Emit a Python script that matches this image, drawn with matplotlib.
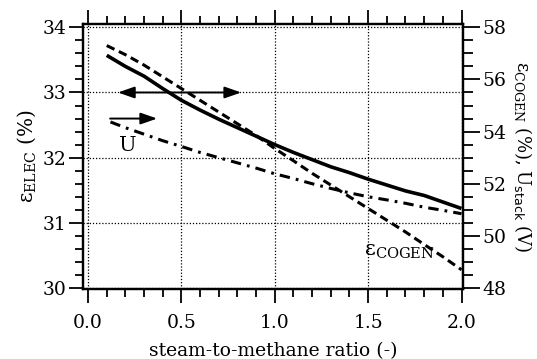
import matplotlib
matplotlib.use("Agg")
import matplotlib.pyplot as plt
from matplotlib.ticker import MultipleLocator

plt.rcParams['font.family'] = ['DejaVu Serif']
plt.rcParams['mathtext.fontset'] = 'custom'
plt.rcParams['mathtext.rm'] = 'DejaVu Serif'
plt.rcParams['mathtext.it'] = 'DejaVu Serif:italic'
plt.rcParams['mathtext.sf'] = 'DejaVu Sans'

# data
sm_ratio = [0.1, 0.2, 0.3, 0.4, 0.5, 0.6, 0.7, 0.8, 0.9, 1.0,
            1.1, 1.2, 1.3, 1.4, 1.5, 1.6, 1.7, 1.8, 1.9, 2.0]
eps_elec = [33.57, 33.40, 33.25, 33.06, 32.88, 32.73, 32.59, 32.46, 32.33, 32.20,
            32.08, 31.97, 31.86, 31.77, 31.67, 31.58, 31.49, 31.42, 31.32, 31.22]
eps_cogen = [57.30, 56.95, 56.55, 56.10, 55.65, 55.20, 54.75, 54.30, 53.85, 53.35,
             52.88, 52.40, 51.95, 51.50, 51.05, 50.60, 50.15, 49.67, 49.20, 48.70]
u_ratio = [0.12, 0.2, 0.3, 0.4, 0.5, 0.6, 0.7, 0.8, 0.9, 1.0,
           1.1, 1.2, 1.3, 1.4, 1.5, 1.6, 1.7, 1.8, 1.9, 2.0]
u_stack = [54.37, 54.15, 53.90, 53.65, 53.43, 53.20, 53.00, 52.80, 52.60, 52.38,
           52.20, 52.00, 51.82, 51.65, 51.50, 51.38, 51.25, 51.10, 50.98, 50.85]

x_ticks = [0.0, 0.5, 1.0, 1.5, 2.0]
left_ticks = [30, 31, 32, 33, 34]
right_ticks = [48, 50, 52, 54, 56, 58]

fig = plt.figure(figsize=(5.37, 3.59), dpi=100)
ax = fig.add_axes([0.1546, 0.195, 0.7076, 0.738])
ax2 = ax.twinx()

ax.set_xlim(-0.027, 2.008)
ax.set_ylim(29.985, 34.05)
ax2.set_ylim(48 + (29.985 - 30) * 2.5, 48 + (34.05 - 30) * 2.5)

ax.plot(sm_ratio, eps_elec, color='black', lw=2.6, solid_capstyle='butt', zorder=5)
ax2.plot(sm_ratio, eps_cogen, color='black', lw=2.2, dashes=(2.8, 1.6), zorder=5)
ax2.plot(u_ratio, u_stack, color='black', lw=2.2, dashes=(3.4, 2.0, 0.9, 2.0), zorder=5)

ax.set_xticks(x_ticks)
ax.set_xticklabels([f"{v:.1f}" for v in x_ticks])
ax.xaxis.set_minor_locator(MultipleLocator(0.1))
ax.set_yticks(left_ticks)
ax.yaxis.set_minor_locator(MultipleLocator(0.2))
ax2.set_yticks(right_ticks)
ax2.yaxis.set_minor_locator(MultipleLocator(0.5))

fs = 13.5
ax.tick_params(axis='x', which='both', direction='out', top=True, bottom=True,
               labelsize=fs, width=1.3, pad=8)
ax.tick_params(axis='x', which='major', length=10)
ax.tick_params(axis='x', which='minor', length=6)
ax.tick_params(axis='y', which='both', direction='out', left=True, right=False,
               labelsize=fs, width=1.3, pad=2)
ax.tick_params(axis='y', which='major', length=10)
ax.tick_params(axis='y', which='minor', length=6)
ax2.tick_params(axis='y', which='both', direction='out', labelsize=fs, width=1.3, pad=2)
ax2.tick_params(axis='y', which='major', length=12)
ax2.tick_params(axis='y', which='minor', length=7)

for a in (ax, ax2):
    for s in a.spines.values():
        s.set_linewidth(1.6)

ax.grid(True, which='major', linestyle=(0, (1, 1.5)), color='black', lw=0.9)

ax.set_xlabel('steam-to-methane ratio (-)', fontsize=fs, labelpad=7)
ax.set_ylabel('ε$_{\\mathrm{ELEC}}$ (%)', fontsize=14.5, labelpad=3)
ax2.set_ylabel('ε$_{\\mathrm{COGEN}}$ (%), U$_{\\mathsf{stack}}$ (V)',
               fontsize=13, rotation=270, labelpad=20)

# annotations
arrow = dict(arrowstyle='-|>,head_length=1.0,head_width=0.35',
             color='black', lw=1.4, shrinkA=0, shrinkB=0)
ax.annotate('', xy=(0.16, 33.0), xytext=(0.5, 33.0), arrowprops=arrow, zorder=6)
ax.annotate('', xy=(0.82, 33.0), xytext=(0.5, 33.0), arrowprops=arrow, zorder=6)
ax.annotate('', xy=(0.37, 32.6), xytext=(0.118, 32.6), arrowprops=arrow, zorder=6)
ax.text(0.215, 32.18, 'U', fontsize=15, ha='center', va='center', zorder=6)
ax.text(1.48, 30.5, 'ε$_{\\mathrm{COGEN}}$', fontsize=15, ha='left',
        va='baseline', zorder=6)

fig.savefig('out.png', dpi=100)
